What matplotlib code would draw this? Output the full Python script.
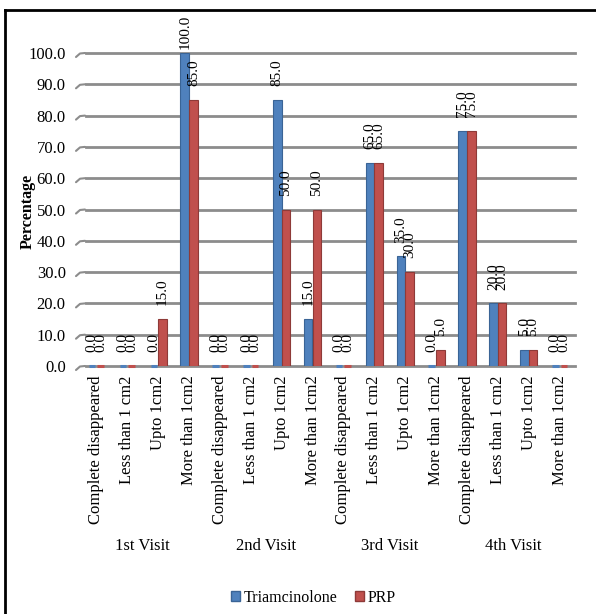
import matplotlib
matplotlib.use("Agg")
import matplotlib.pyplot as plt
from matplotlib.patches import Patch
from matplotlib.lines import Line2D

visits = ["1st Visit", "2nd Visit", "3rd Visit", "4th Visit"]
sizes = ["Complete disappeared", "Less than 1 cm2", "Upto 1cm2", "More than 1cm2"]
categories = [s for v in visits for s in sizes]
triamcinolone = [0, 0, 0, 100, 0, 0, 85, 15, 0, 65, 35, 0, 75, 20, 5, 0]
prp = [0, 0, 15, 85, 0, 0, 50, 50, 0, 65, 30, 5, 75, 20, 5, 0]
yticks = [0, 10, 20, 30, 40, 50, 60, 70, 80, 90, 100]

W, H = 596, 614
fig = plt.figure(figsize=(W / 100, H / 100), dpi=100)
plt.rcParams['font.family'] = ['Liberation Serif', 'DejaVu Serif']

L, R, T, B = 81, 575, 53, 366
ax = fig.add_axes([L / W, 1 - B / H, (R - L) / W, (B - T) / H])
ax.set_xlim(-0.5, len(categories) - 0.5)
ax.set_ylim(0, 100)
for s in ax.spines.values():
    s.set_visible(False)

GRID = '#8c8c8c'
for v in yticks:
    ax.axhline(v, color=GRID, lw=2.0, zorder=0, xmin=0.01, clip_on=False)
    x0, y0 = ax.transData.transform((-0.5, v))
    fig.add_artist(Line2D([(x0 - 5) / W, (x0 - 1) / W, (x0 + 4) / W],
                          [(y0 - 4) / H, (y0 - 0.5) / H, y0 / H],
                          color=GRID, lw=1.5, solid_capstyle='round'))

xs = list(range(len(categories)))
bw = 0.275
off = 0.14
BLUE, BLUE_E = '#4f81bd', '#3a6496'
RED, RED_E = '#c0504d', '#8e3a38'
blue_bars = ax.bar([x - off for x in xs], triamcinolone, width=bw, color=BLUE,
                   edgecolor=BLUE_E, lw=0.8, zorder=3)
red_bars = ax.bar([x + off for x in xs], prp, width=bw, color=RED,
                  edgecolor=RED_E, lw=0.8, zorder=3)

for bars, vals, fc in ((blue_bars, triamcinolone, BLUE), (red_bars, prp, RED)):
    for b, v in zip(bars, vals):
        xc = b.get_x() + b.get_width() / 2
        if v == 0:
            ax.hlines(0, b.get_x() + 0.03, b.get_x() + b.get_width() - 0.03,
                      color=fc, lw=2.2, zorder=4, clip_on=False)
        dy = 3 if v >= 95 else 10
        ax.annotate(f"{v:.1f}", (xc, v),
                    xytext=(0, dy), textcoords='offset points', rotation=90,
                    ha='center', va='bottom', fontsize=11, annotation_clip=False,
                    zorder=5)

ax.set_yticks(yticks)
ax.set_yticklabels([f"{v:.1f}" for v in yticks], fontsize=12)
ax.tick_params(axis='y', length=0, pad=11)
ax.set_xticks(xs)
ax.set_xticklabels(categories, rotation=90, fontsize=12, va='top', ha='center')
ax.tick_params(axis='x', length=0, pad=7)

fig.text(28 / W, 1 - 211 / H, "Percentage", rotation=90, ha='center', va='center',
         fontsize=11.5, fontweight='bold')

for i, v in enumerate(visits):
    xc = ax.transData.transform((i * 4 + 1.5, 0))[0]
    fig.text(xc / W, 1 - 546 / H, v, ha='center', va='center', fontsize=12)

handles = [Patch(facecolor=BLUE, edgecolor=BLUE_E),
           Patch(facecolor=RED, edgecolor=RED_E)]
fig.legend(handles, ["Triamcinolone", "PRP"], loc='center',
           bbox_to_anchor=(313 / W, 1 - 598 / H), ncol=2, frameon=False,
           fontsize=11.5, handlelength=0.6, handleheight=0.6, handletextpad=0.2,
           columnspacing=1.1)

# outer frame (left and top edges)
fig.add_artist(Line2D([5 / W, 5 / W], [0, 1 - 10 / H], color='black', lw=2))
fig.add_artist(Line2D([5 / W, 1], [1 - 10 / H, 1 - 10 / H], color='black', lw=2))

fig.savefig("out.png", dpi=100)
